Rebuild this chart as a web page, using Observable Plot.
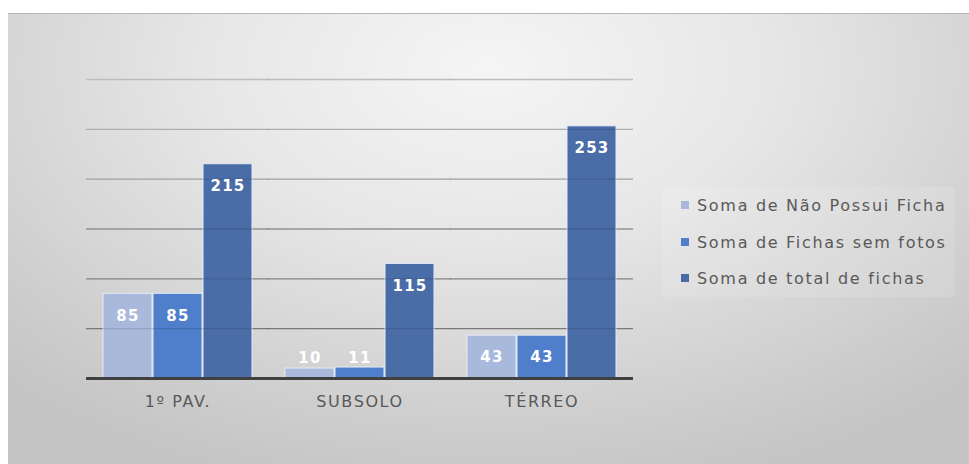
<!DOCTYPE html>
<html>
<head>
<meta charset="utf-8">
<script src="https://cdn.jsdelivr.net/npm/d3@7"></script>
<script src="https://cdn.jsdelivr.net/npm/@observablehq/plot@0.6"></script>
<style>
  html, body { margin: 0; padding: 0; background: #ffffff; width: 969px; height: 464px; overflow: hidden; }
  #frame {
    position: absolute; left: 8px; top: 13px; width: 961px; height: 451px;
    box-sizing: border-box; border-top: 1px solid #b7b7b7;
    background: radial-gradient(ellipse 72% 95% at 50% 12%, #f5f5f5 0%, #e7e7e7 40%, #cdcdcd 85%, #c5c5c5 100%);
    font-family: "DejaVu Sans", sans-serif;
  }
  #chart { position: absolute; left: 0; top: -1px; }
  #chart svg g[aria-label="text"] text { letter-spacing: 1.2px; }
  #chart svg g[aria-label="fx-axis tick label"] text { letter-spacing: 1.6px; }
  #legend {
    position: absolute; left: 654px; top: 173px; width: 293px; height: 110px;
    background: rgba(255,255,255,0.12);
  }
  .item { position: absolute; left: 19px; height: 20px; display: flex; align-items: center;
    font-size: 16px; color: #595959; letter-spacing: 1.7px; white-space: nowrap; }
  .sw { width: 8px; height: 8px; margin-right: 8px; flex: none; }
</style>
</head>
<body>
<div id="frame">
  <div id="chart"></div>
  <div id="legend"></div>
</div>
<script>
const categories = ["1º PAV.", "SUBSOLO", "TÉRREO"];
const seriesNames = ["Soma de Não Possui Ficha", "Soma de Fichas sem fotos", "Soma de total de fichas"];
const naoPossuiFicha = [85, 10, 43];
const fichasSemFotos = [85, 11, 43];
const totalFichas = [215, 115, 253];
const seriesColors = ["#A9B9DC", "#4F7FCB", "#4A6DA8"];
const gridTicks = [50, 100, 150, 200, 250, 300];

const seriesValues = [naoPossuiFicha, fichasSemFotos, totalFichas];
const data = [];
categories.forEach((c, i) => {
  seriesNames.forEach((s, j) => {
    data.push({floor: c, series: s, value: seriesValues[j][i]});
  });
});

const gridShade = d3.interpolateRgb("#8a8a8a", "#d8d8d8");
const gridColor = v => gridShade((v - 50) / 250);

const chart = Plot.plot({
  width: 961,
  height: 451,
  marginLeft: 78,
  marginRight: 336,
  marginTop: 66,
  marginBottom: 86,
  style: {background: "transparent", fontFamily: "DejaVu Sans, sans-serif", fontSize: "16px", color: "#595959", overflow: "visible"},
  fx: {domain: categories, paddingInner: 0.18, paddingOuter: 0.09, label: null},
  x: {domain: seriesNames, paddingInner: 0.02, paddingOuter: 0, axis: null},
  y: {domain: [0, 300], axis: null},
  color: {domain: seriesNames, range: seriesColors},
  marks: [
    Plot.ruleY(gridTicks, {stroke: gridColor, strokeWidth: 1.3, insetLeft: -17, insetRight: -17}),
    Plot.barY(data, {fx: "floor", x: "series", y: "value", fill: "series", stroke: "#e6ebf5", strokeWidth: 1}),
    Plot.ruleY(gridTicks, {stroke: "#000000", strokeOpacity: 0.12, strokeWidth: 1.3, insetLeft: -17, insetRight: -17}),
    Plot.ruleY([0], {stroke: "#404040", strokeWidth: 3, insetLeft: -17, insetRight: -17}),
    Plot.text(data, {fx: "floor", x: "series", y: d => Math.max(d.value - 22, 20), text: d => String(d.value),
      fill: "white", fontWeight: "bold", fontSize: 15, fontFamily: "DejaVu Sans, sans-serif"}),
    Plot.axisFx({anchor: "bottom", tickSize: 0, tickPadding: 17, label: null, fontSize: 16, fill: "#595959"})
  ]
});
document.getElementById("chart").appendChild(chart);

const legend = document.getElementById("legend");
const rowTops = [8, 45, 81];
seriesNames.forEach((s, j) => {
  const item = document.createElement("div");
  item.className = "item";
  item.style.top = rowTops[j] + "px";
  const sw = document.createElement("span");
  sw.className = "sw";
  sw.style.background = seriesColors[j];
  const label = document.createElement("span");
  label.textContent = s;
  item.appendChild(sw);
  item.appendChild(label);
  legend.appendChild(item);
});
</script>
</body>
</html>
